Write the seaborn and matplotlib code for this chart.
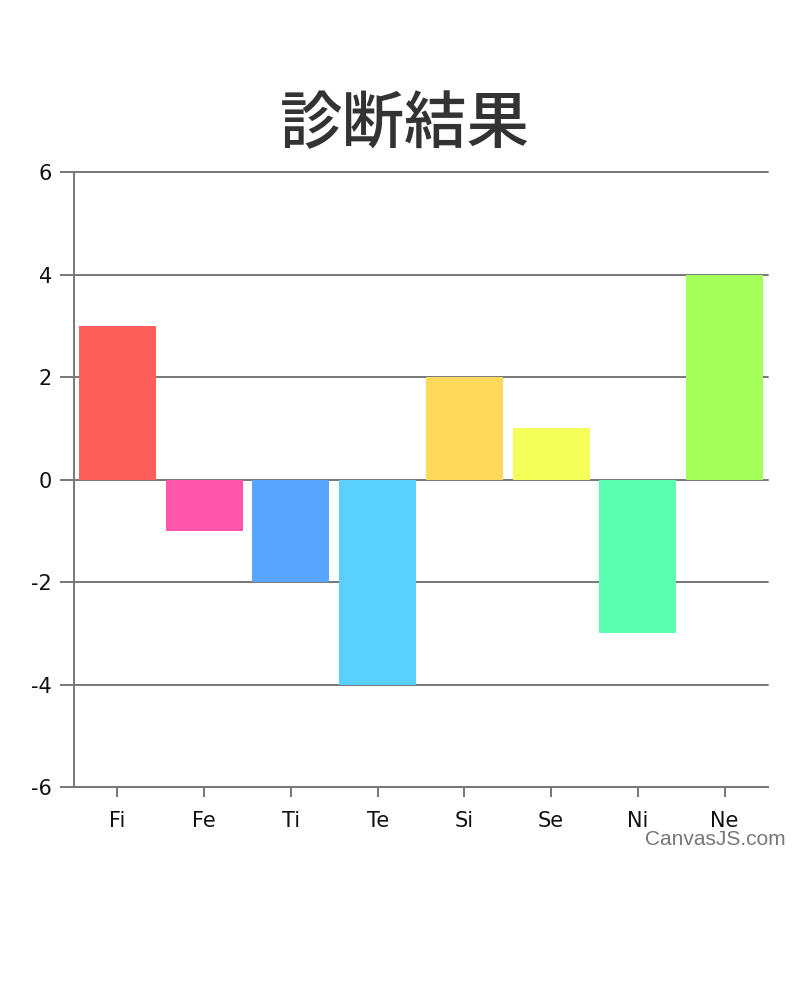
import seaborn as sns
import matplotlib.pyplot as plt
import pandas as pd

categories = ["Fi", "Fe", "Ti", "Te", "Si", "Se", "Ni", "Ne"]
values = [3, -1, -2, -4, 2, 1, -3, 4]
colors = ["#FF5F5A", "#FF55AA", "#5AA5FF", "#5AD0FF",
          "#FFDA5A", "#F5FF5A", "#5AFFB0", "#A5FF5A"]
yticks = [-6, -4, -2, 0, 2, 4, 6]
title = "診断結果"

sns.set_style("white")
plt.rcParams["font.family"] = ["Noto Sans CJK JP", "DejaVu Sans"]
plt.rcParams["axes.unicode_minus"] = False

df = pd.DataFrame({"cat": categories, "val": values})

fig = plt.figure(figsize=(8.1, 9.99), dpi=100)
ax = fig.add_axes([0.0914, 0.2122, 0.8567, 0.6156])

grid_color = "#777777"
for y in yticks:
  ax.axhline(y, color=grid_color, linewidth=1.4, zorder=0, clip_on=False)

sns.barplot(
  data=df, x="cat", y="val", hue="cat", palette=colors,
  order=categories, hue_order=categories,
  width=0.89, saturation=1, legend=False, ax=ax, zorder=2,
  linewidth=0,
)

ax.set_xlim(-0.5, len(categories) - 0.5)
ax.set_ylim(-6, 6)
ax.set_yticks(yticks)
ax.set_xlabel("")
ax.set_ylabel("")
for side in ["top", "right"]:
  ax.spines[side].set_visible(False)
for side in ["left", "bottom"]:
  ax.spines[side].set_color(grid_color)
  ax.spines[side].set_linewidth(1.4)
ax.tick_params(axis="both", bottom=True, left=True, width=1.4,
               color=grid_color, labelsize=15, labelcolor="#111111")
ax.tick_params(axis="y", length=10, pad=6)
ax.tick_params(axis="x", length=7, pad=10)
for lbl in ax.get_xticklabels() + ax.get_yticklabels():
  lbl.set_family(["DejaVu Sans"])

fig.text(0.50, 0.874, title, ha="center", va="center",
         fontsize=45, color="#333333", weight="medium")
fig.text(0.97, 0.16, "CanvasJS.com", ha="right", va="center",
         fontsize=15, color="#777777", family=["Liberation Sans"])

fig.savefig("out.png", dpi=100)
